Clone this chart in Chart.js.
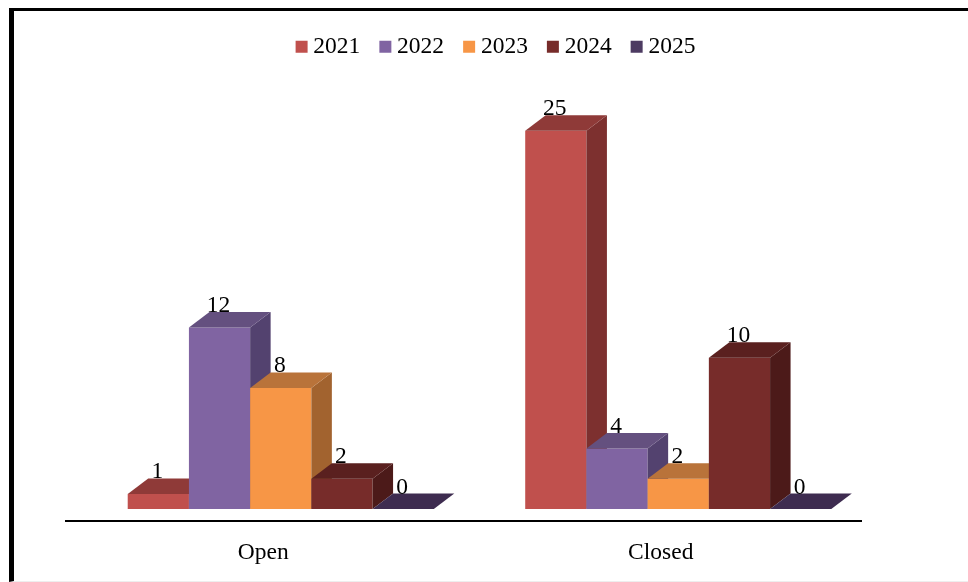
<!DOCTYPE html>
<html>
<head>
<meta charset="utf-8">
<script src="https://cdn.jsdelivr.net/npm/chart.js@4"></script>
<style>
    html, body { margin: 0; background: #fff; overflow: hidden; }
    #wrap { position: relative; width: 968px; height: 582px; }
    #frame { position: absolute; left: 9px; top: 8px; right: 0; bottom: 0; border-left: 5px solid #000; border-top: 3px solid #000; border-bottom: 1px solid #eee; }
    canvas { position: absolute; left: 0; top: 0; }
</style>
</head>
<body>
<div id="wrap">
    <div id="frame"></div>
    <canvas id="myCanvas" width="968" height="582"></canvas>
</div>
<script>
var categories = ['Open', 'Closed'];
var years = ['2021', '2022', '2023', '2024', '2025'];
var values2021 = [1, 25];
var values2022 = [12, 4];
var values2023 = [8, 2];
var values2024 = [2, 10];
var values2025 = [0, 0];

var seriesValues = [values2021, values2022, values2023, values2024, values2025];
var frontColors = ['#C0504D', '#8064A2', '#F79646', '#772C2A', '#4D3B62'];
var topColors = ['#8F3A38', '#64507F', '#B9733A', '#5A201F', '#3E2C50'];
var sideColors = ['#7D302F', '#53426F', '#A2632F', '#4C1A19', '#33243F'];

var depthX = 20.5;
var depthY = 15.5;
var shiftX = 16;
var fontName = '"Liberation Serif", "Times New Roman", serif';
var fontSize = 23.5;

// fake 3d: chart.js draws the last dataset first, here the bars must go left to right
var bars3d = {
    id: 'bars3d',
    beforeDatasetDraw() {
        return false;
    },
    afterDatasetsDraw(chart) {
        var ctx = chart.ctx;
        ctx.save();
        ctx.translate(shiftX, 0);

        seriesValues.forEach(function (values, i) {
            var meta = chart.getDatasetMeta(i);
            meta.controller.draw();
            meta.data.forEach(function (bar) {
                var left = bar.x - bar.width / 2;
                var right = bar.x + bar.width / 2;

                ctx.fillStyle = sideColors[i];
                ctx.beginPath();
                ctx.moveTo(right, bar.y);
                ctx.lineTo(right + depthX, bar.y - depthY);
                ctx.lineTo(right + depthX, bar.base - depthY);
                ctx.lineTo(right, bar.base);
                ctx.closePath();
                ctx.fill();

                ctx.fillStyle = topColors[i];
                ctx.beginPath();
                ctx.moveTo(left, bar.y);
                ctx.lineTo(left + depthX, bar.y - depthY);
                ctx.lineTo(right + depthX, bar.y - depthY);
                ctx.lineTo(right, bar.y);
                ctx.closePath();
                ctx.fill();
            });
        });

        ctx.fillStyle = '#000';
        ctx.font = fontSize + 'px ' + fontName;
        ctx.textAlign = 'center';
        ctx.textBaseline = 'alphabetic';
        seriesValues.forEach(function (values, i) {
            chart.getDatasetMeta(i).data.forEach(function (bar, j) {
                ctx.fillText(String(values[j]), bar.x - 1, bar.y - depthY);
            });
        });
        ctx.restore();
    }
};

var ctx = document.getElementById('myCanvas').getContext('2d');
var myChart = new Chart(ctx, {
    type: 'bar',
    plugins: [bars3d],
    data: {
        labels: categories,
        datasets: years.map(function (year, i) {
            return {
                label: year,
                data: seriesValues[i],
                backgroundColor: frontColors[i],
                borderWidth: 0
            };
        })
    },
    options: {
        responsive: false,
        animation: false,
        barPercentage: 1,
        categoryPercentage: 0.77,
        layout: {
            padding: { left: 66, right: 37, top: 10, bottom: 0 }
        },
        plugins: {
            tooltip: { enabled: false },
            legend: {
                position: 'top',
                labels: {
                    usePointStyle: true,
                    pointStyle: 'rect',
                    boxWidth: 0.01,
                    boxHeight: 12,
                    padding: 25,
                    color: '#000',
                    font: { family: fontName, size: fontSize }
                }
            }
        },
        scales: {
            x: {
                grid: { display: false },
                border: { display: true, color: '#000', width: 2 },
                ticks: {
                    color: '#000',
                    padding: 10,
                    labelOffset: -1.5,
                    maxRotation: 0,
                    font: { family: fontName, size: fontSize }
                },
                afterFit(scale) {
                    scale.height = 61;
                }
            },
            y: {
                position: 'right',
                min: -0.79,
                max: 29.11,
                grid: { display: false },
                border: { display: false },
                ticks: { display: false },
                afterFit(scale) {
                    scale.width = 70;
                }
            }
        }
    }
});
</script>
</body>
</html>
